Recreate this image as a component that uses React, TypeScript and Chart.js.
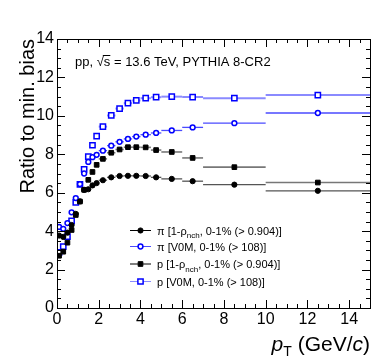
import React, { useEffect, useRef } from "react";
import { Chart, registerables } from "chart.js";

Chart.register(...registerables);

// ---- data ----
const ptCenters = [0.1, 0.3, 0.5, 0.7, 0.9, 1.1, 1.3, 1.5, 1.7, 1.9, 2.2, 2.6, 3.0, 3.4, 3.8, 4.25, 4.75, 5.5, 6.5, 8.5, 12.5];
const ptHalfWidths = [0.1, 0.1, 0.1, 0.1, 0.1, 0.1, 0.1, 0.1, 0.1, 0.1, 0.2, 0.2, 0.2, 0.2, 0.2, 0.25, 0.25, 0.5, 0.5, 1.5, 2.5];

const piRho = [3.77, 3.70, 3.92, 4.32, 4.90, 5.55, 6.15, 6.18, 6.38, 6.50, 6.65, 6.80, 6.87, 6.88, 6.88, 6.87, 6.80, 6.72, 6.60, 6.42, 6.10];
const piV0M = [4.22, 4.12, 4.42, 4.98, 5.72, 6.45, 7.00, 7.60, 7.85, 7.97, 8.19, 8.45, 8.65, 8.80, 8.92, 9.02, 9.11, 9.24, 9.40, 9.62, 10.15];
const pRho = [2.72, 2.93, 3.40, 4.06, 4.84, 5.54, 6.15, 6.67, 7.08, 7.45, 7.76, 8.08, 8.25, 8.37, 8.37, 8.36, 8.22, 8.12, 7.81, 7.33, 6.53];
const pV0M = [2.90, 3.19, 3.71, 4.53, 5.50, 6.44, 7.22, 7.88, 8.47, 8.95, 9.44, 10.02, 10.38, 10.66, 10.80, 10.92, 10.97, 11.00, 10.98, 10.92, 11.08];

const xTicks = [0, 2, 4, 6, 8, 10, 12, 14];
const yTicks = [0, 2, 4, 6, 8, 10, 12, 14];
const xRange = [0, 15];
const yRange = [0, 14];

type Seg = { text: string; font: string; dy?: number };

const FONT = '"Liberation Sans", Arial, Helvetica, sans-serif';

const series = [
  { key: "piRho", data: piRho, label: [{ t: "π [1-ρ", sub: "nch", rest: ", 0-1% (> 0.904)]" }], style: "circle", fill: "#000000", stroke: "#000000", r: 2.6, bw: 1, bar: "#555555", barW: 1.3 },
  { key: "piV0M", data: piV0M, label: [{ t: "π [V0M, 0-1% (> 108)]", sub: "", rest: "" }], style: "circle", fill: "#ffffff", stroke: "#0000ff", r: 2.4, bw: 1.5, bar: "#4a4aff", barW: 1.3 },
  { key: "pRho", data: pRho, label: [{ t: "p [1-ρ", sub: "nch", rest: ", 0-1% (> 0.904)]" }], style: "rect", fill: "#000000", stroke: "#000000", r: 3.3, bw: 1, bar: "#777777", barW: 1.6 },
  { key: "pV0M", data: pV0M, label: [{ t: "p [V0M, 0-1% (> 108)]", sub: "", rest: "" }], style: "rect", fill: "#ffffff", stroke: "#0000ff", r: 3.7, bw: 1.5, bar: "#8a8aff", barW: 2 },
];

function drawSegs(ctx: CanvasRenderingContext2D, x: number, y: number, segs: Seg[]) {
  let cx = x;
  for (const s of segs) {
    ctx.font = s.font;
    ctx.fillText(s.text, cx, y + (s.dy || 0));
    cx += ctx.measureText(s.text).width;
  }
  return cx;
}

const framePlugin = {
  id: "rootFrame",
  beforeDatasetsDraw(chart: any) {
    const ctx: CanvasRenderingContext2D = chart.ctx;
    const xs = chart.scales.x;
    const ys = chart.scales.y;
    ctx.save();
    series.forEach((s) => {
      ctx.strokeStyle = s.bar;
      ctx.lineWidth = s.barW;
      s.data.forEach((v, i) => {
        const lo = xs.getPixelForValue(ptCenters[i] - ptHalfWidths[i]);
        const hi = xs.getPixelForValue(Math.min(ptCenters[i] + ptHalfWidths[i], xRange[1]));
        const py = ys.getPixelForValue(v);
        ctx.beginPath();
        ctx.moveTo(lo, py);
        ctx.lineTo(hi, py);
        ctx.stroke();
      });
    });
    ctx.restore();
  },
  afterDraw(chart: any) {
    const ctx: CanvasRenderingContext2D = chart.ctx;
    const a = chart.chartArea;
    const xs = chart.scales.x;
    const ys = chart.scales.y;
    ctx.save();
    // frame
    ctx.strokeStyle = "#000";
    ctx.lineWidth = 1;
    ctx.strokeRect(Math.round(a.left) + 0.5, Math.round(a.top) + 0.5, Math.round(a.right - a.left), Math.round(a.bottom - a.top));
    // ticks
    ctx.beginPath();
    for (let v = xRange[0]; v <= xRange[1] + 1e-9; v += 0.5) {
      const px = Math.round(xs.getPixelForValue(v)) + 0.5;
      const major = Math.abs(v / 2 - Math.round(v / 2)) < 1e-6;
      const len = major ? 8 : 4;
      ctx.moveTo(px, a.bottom);
      ctx.lineTo(px, a.bottom - len);
      ctx.moveTo(px, a.top);
      ctx.lineTo(px, a.top + len);
    }
    for (let v = yRange[0]; v <= yRange[1] + 1e-9; v += 0.5) {
      const py = Math.round(ys.getPixelForValue(v)) + 0.5;
      const major = Math.abs(v / 2 - Math.round(v / 2)) < 1e-6;
      const len = major ? 8 : 4;
      ctx.moveTo(a.left, py);
      ctx.lineTo(a.left + len, py);
      ctx.moveTo(a.right, py);
      ctx.lineTo(a.right - len, py);
    }
    ctx.stroke();
    // tick labels
    ctx.fillStyle = "#000";
    ctx.font = `16px ${FONT}`;
    ctx.textAlign = "center";
    ctx.textBaseline = "top";
    xTicks.forEach((t) => {
      ctx.fillText(String(t), xs.getPixelForValue(t), a.bottom + 4);
    });
    ctx.textAlign = "right";
    ctx.textBaseline = "middle";
    yTicks.forEach((t) => {
      ctx.fillText(String(t), a.left - 3, ys.getPixelForValue(t));
    });
    // y title
    ctx.save();
    ctx.translate(28, a.top);
    ctx.rotate(-Math.PI / 2);
    ctx.textAlign = "right";
    ctx.textBaseline = "middle";
    ctx.font = `20px ${FONT}`;
    ctx.fillText("Ratio to min. bias", 0, 0);
    ctx.restore();
    // x title, right-aligned to axis end
    ctx.textAlign = "left";
    ctx.textBaseline = "alphabetic";
    const xt: Seg[] = [
      { text: "p", font: `italic 21px ${FONT}` },
      { text: "T", font: `14px ${FONT}`, dy: 5 },
      { text: " (GeV/", font: `21px ${FONT}` },
      { text: "c", font: `italic 21px ${FONT}` },
      { text: ")", font: `21px ${FONT}` },
    ];
    let w = 0;
    xt.forEach((s) => { ctx.font = s.font; w += ctx.measureText(s.text).width; });
    drawSegs(ctx, a.right - w, 351, xt);
    // annotation
    ctx.font = `13px ${FONT}`;
    const ax = 75;
    const ay = 66;
    let cx = drawSegs(ctx, ax, ay, [{ text: "pp, √", font: `13px ${FONT}` }]);
    const sw = ctx.measureText("s").width;
    ctx.beginPath();
    ctx.lineWidth = 1;
    ctx.moveTo(cx - 1, ay - 10.5);
    ctx.lineTo(cx + sw, ay - 10.5);
    ctx.stroke();
    drawSegs(ctx, cx, ay, [{ text: "s = 13.6 TeV, PYTHIA 8-CR2", font: `13px ${FONT}` }]);
    // legend
    const rows = [230.5, 246.5, 264, 281.5];
    series.forEach((s, i) => {
      const y = rows[i];
      ctx.strokeStyle = s.stroke === "#0000ff" ? s.bar : "#000";
      ctx.lineWidth = 1;
      ctx.beginPath();
      ctx.moveTo(130, y);
      ctx.lineTo(151, y);
      ctx.stroke();
      ctx.fillStyle = s.fill;
      ctx.strokeStyle = s.stroke;
      ctx.lineWidth = s.bw;
      ctx.beginPath();
      if (s.style === "circle") {
        ctx.arc(140.5, y, s.r, 0, Math.PI * 2);
      } else {
        const h = s.r * Math.SQRT1_2;
        ctx.rect(140.5 - h, y - h, 2 * h, 2 * h);
      }
      ctx.fill();
      ctx.stroke();
      ctx.fillStyle = "#000";
      const l = s.label[0];
      const segs: Seg[] = [{ text: l.t, font: `11px ${FONT}` }];
      if (l.sub) segs.push({ text: l.sub, font: `8px ${FONT}`, dy: 3.5 });
      if (l.rest) segs.push({ text: l.rest, font: `11px ${FONT}` });
      drawSegs(ctx, 157, y + 4, segs);
    });
    ctx.restore();
  },
};

export default function App() {
  const ref = useRef<HTMLCanvasElement | null>(null);
  useEffect(() => {
    document.body.style.margin = "0";
    const canvas = ref.current;
    if (!canvas) return;
    const datasets = series.map((s) => ({
      label: s.key,
      data: s.data.map((v, i) => ({ x: ptCenters[i], y: v })),
      showLine: false,
      pointStyle: s.style as any,
      pointRadius: s.r,
      pointHoverRadius: s.r,
      pointBackgroundColor: s.fill,
      pointBorderColor: s.stroke,
      pointBorderWidth: s.bw,
      borderColor: s.stroke,
      backgroundColor: s.fill,
    }));
    const chart = new Chart(canvas, {
      type: "scatter",
      data: { datasets },
      options: {
        responsive: false,
        animation: false,
        devicePixelRatio: 1,
        layout: { padding: { left: 57, right: 12, top: 39, bottom: 55 } },
        plugins: { legend: { display: false }, tooltip: { enabled: false } },
        events: [],
        scales: {
          x: { type: "linear", display: false, min: xRange[0], max: xRange[1] },
          y: { type: "linear", display: false, min: yRange[0], max: yRange[1] },
        },
      },
      plugins: [framePlugin],
    });
    return () => chart.destroy();
  }, []);
  return <canvas ref={ref} width={382} height={363} style={{ width: 382, height: 363, display: "block" }} />;
}
